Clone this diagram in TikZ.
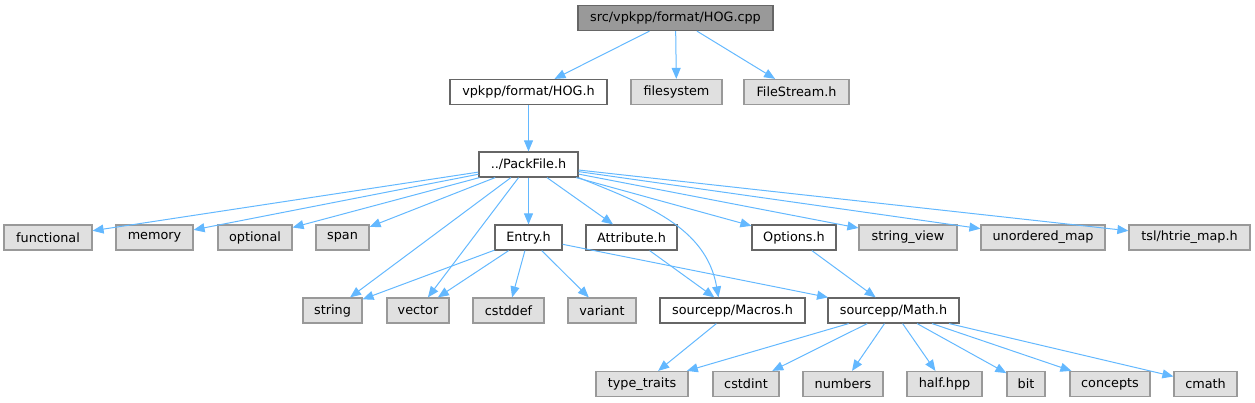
\documentclass[tikz,border=0pt]{standalone}
\usepackage{fontspec}
\setmainfont{DejaVu Sans}
\usetikzlibrary{arrows.meta}
\definecolor{edgeblue}{HTML}{63B8FF}
\definecolor{boxline}{HTML}{666666}
\definecolor{extline}{HTML}{999999}
\definecolor{extfill}{HTML}{E0E0E0}
\definecolor{rootfill}{HTML}{999999}
\begin{document}
\begin{tikzpicture}[
  x=1pt,y=1pt,
  font=\fontsize{12.8}{15}\selectfont,
  >={Triangle[length=11pt,width=9pt]},
  file/.style={draw=boxline,fill=white,line width=1.2pt,minimum height=25pt,inner xsep=1pt,inner ysep=0pt},
  root/.style={file,fill=rootfill},
  sys/.style={file,draw=extline,fill=extfill},
  dep/.style={->,edgeblue,line width=1pt},
]
\useasboundingbox (0,0) rectangle (1255,-403);
% ---- source file and its direct includes ----
\node[root,minimum width=195] (hogcpp) at (675.5,-18) {src/vpkpp/format/HOG.cpp};
\node[file,minimum width=157] (hogh) at (528.5,-92) {vpkpp/format/HOG.h};
\node[sys,minimum width=91] (filesystem) at (676.5,-92) {filesystem};
\node[sys,minimum width=105] (filestream) at (796.5,-92) {FileStream.h};
\node[file,minimum width=99] (packfile) at (528.5,-164.5) {../PackFile.h};
% ---- includes of PackFile.h ----
\node[sys,minimum width=88] (functional) at (48,-237.5) {functional};
\node[sys,minimum width=77] (memory) at (154.5,-237.5) {memory};
\node[sys,minimum width=74] (optional) at (255,-237.5) {optional};
\node[sys,minimum width=53] (span) at (342.5,-237.5) {span};
\node[file,minimum width=67] (entry) at (528.5,-237.5) {Entry.h};
\node[file,minimum width=91] (attribute) at (631.5,-237.5) {Attribute.h};
\node[file,minimum width=84] (options) at (794,-237.5) {Options.h};
\node[sys,minimum width=98] (stringview) at (908,-237.5) {string\_view};
\node[sys,minimum width=124] (unorderedmap) at (1043,-237.5) {unordered\_map};
\node[sys,minimum width=121] (htriemap) at (1189.5,-237.5) {tsl/htrie\_map.h};
% ---- second level ----
\node[sys,minimum width=59] (string) at (332.5,-310.5) {string};
\node[sys,minimum width=62] (vector) at (418,-310.5) {vector};
\node[sys,minimum width=71] (cstddef) at (508.5,-310.5) {cstddef};
\node[sys,minimum width=68] (variant) at (602,-310.5) {variant};
\node[file,minimum width=145] (macros) at (732.5,-310.5) {sourcepp/Macros.h};
\node[file,minimum width=131] (math) at (893.5,-310.5) {sourcepp/Math.h};
% ---- includes of Math.h / Macros.h ----
\node[sys,minimum width=92] (typetraits) at (642,-384) {type\_traits};
\node[sys,minimum width=66] (cstdint) at (746,-384) {cstdint};
\node[sys,minimum width=80] (numbers) at (843,-384) {numbers};
\node[sys,minimum width=75] (halfhpp) at (944.5,-384) {half.hpp};
\node[sys,minimum width=38] (bit) at (1026,-384) {bit};
\node[sys,minimum width=80] (concepts) at (1110,-384) {concepts};
\node[sys,minimum width=63] (cmath) at (1205.5,-384) {cmath};
% ---- edges ----
\foreach \dst in {hogh,filesystem,filestream}
  \draw[dep] (hogcpp) -- (\dst);
\draw[dep] (hogh) -- (packfile);
\foreach \dst in {functional,memory,optional,span,string,vector,entry,attribute,options,stringview,unorderedmap,htriemap}
  \draw[dep] (packfile) -- (\dst);
\draw[dep] (packfile.south east) to[out=-22,in=100] ([xshift=-14pt]macros.north);
\foreach \dst in {string,vector,cstddef,variant,math}
  \draw[dep] (entry) -- (\dst);
\draw[dep] (attribute) -- (macros);
\draw[dep] (options) -- (math);
\draw[dep] (macros) -- (typetraits);
\foreach \dst in {typetraits,cstdint,numbers,halfhpp,bit,concepts,cmath}
  \draw[dep] (math) -- (\dst);
\end{tikzpicture}
\end{document}
